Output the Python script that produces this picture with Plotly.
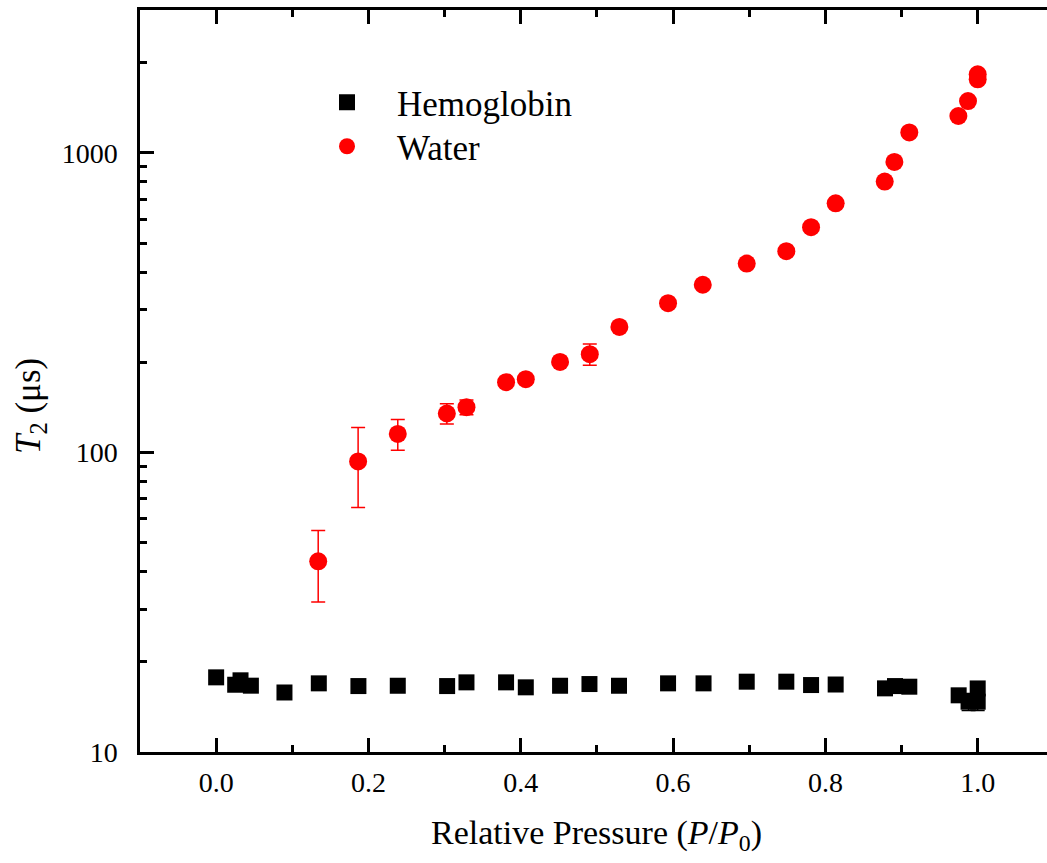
import plotly.graph_objects as go

# ---- data ----
hemo_x = [0.0, 0.025, 0.032, 0.0456, 0.0897, 0.1348, 0.1868, 0.2385, 0.3033, 0.3287,
          0.3807, 0.4066, 0.4516, 0.4902, 0.529, 0.5934, 0.64, 0.6967, 0.7487, 0.7812,
          0.8135, 0.8783, 0.8914, 0.9102, 0.975, 0.988, 1.0, 1.0]
hemo_y = [17.75, 16.77, 17.35, 16.65, 15.8, 16.95, 16.6, 16.64, 16.6, 17.08,
          17.08, 16.44, 16.64, 16.86, 16.64, 16.95, 16.95, 17.17, 17.17, 16.73,
          16.8, 16.31, 16.6, 16.52, 15.46, 14.72, 14.72, 16.3]
hemo_err = [0.3, 0.3, 0.3, 0.3, 0.3, 0.3, 0.3, 0.3, 0.3, 0.3,
            0.3, 0.3, 0.3, 0.3, 0.3, 0.3, 0.3, 0.3, 0.3, 0.3,
            0.3, 0.3, 0.3, 0.3, 0.4, 0.95, 0.95, 0.4]

water_x = [0.134, 0.1864, 0.2385, 0.3029, 0.3287, 0.3807, 0.4066, 0.4516, 0.4906, 0.5295,
           0.5934, 0.639, 0.6967, 0.7487, 0.7812, 0.8135, 0.8779, 0.8906, 0.9102, 0.9746,
           0.9873, 1.0, 1.0]
water_y = [43.3, 93.3, 115.3, 134.9, 141.6, 171.7, 175.7, 200.6, 212.8, 262.4,
           315, 363, 427, 470, 565, 679, 802, 933, 1171, 1328,
           1490, 1830, 1760]
water_err = [11.6, 27.8, 13.5, 10.4, 8, 4, 4, 5, 17.4, 6,
             6, 6, 6, 6, 8, 8, 10, 10, 12, 15,
             15, 20, 20]

x_ticks = [0.0, 0.2, 0.4, 0.6, 0.8, 1.0]
x_minor = [-0.1, 0.1, 0.3, 0.5, 0.7, 0.9]
y_ticks = [10, 100, 1000]
y_minor = [20, 30, 40, 50, 60, 70, 80, 90, 200, 300, 400, 500, 600, 700, 800, 900, 2000, 3000]

FONT = "Liberation Serif, Times New Roman, serif"
W, H = 1047, 863
L, T, B, R = 140, 10, 111, 0
PW = W - L - R
PH = H - T - B

fig = go.Figure()
fig.add_trace(go.Scatter(
    x=hemo_x, y=hemo_y, mode="markers", name="Hemoglobin",
    marker=dict(symbol="square", size=16, color="black", line=dict(width=0)),
    error_y=dict(type="data", array=hemo_err, color="black", thickness=1.5, width=7),
    legend="legend"))
fig.add_trace(go.Scatter(
    x=water_x, y=water_y, mode="markers", name="Water",
    marker=dict(symbol="circle", size=18, color="#ff0000", line=dict(width=0)),
    error_y=dict(type="data", array=water_err, color="#ff0000", thickness=1.5, width=7),
    legend="legend2"))

def px_x(px):
    return (px - L) / PW

def px_y(py):
    return (H - B - py) / PH

leg_common = dict(font=dict(family=FONT, size=35, color="black"), bgcolor="rgba(0,0,0,0)",
                  borderwidth=0, xanchor="left", yanchor="middle", itemwidth=90,
                  xref="paper", yref="paper")

fig.update_layout(
    width=W, height=H,
    margin=dict(l=L, r=R, t=T, b=B, pad=0),
    paper_bgcolor="white", plot_bgcolor="white",
    font=dict(family=FONT, color="black"),
    showlegend=True,
    legend=dict(x=px_x(297), y=px_y(102.5), **leg_common),
    legend2=dict(x=px_x(297), y=px_y(146.5), **leg_common),
    xaxis=dict(
        range=[-0.1, 1.091], tickvals=x_ticks, tickformat=".1f",
        ticks="inside", ticklen=14, tickwidth=2.5, tickcolor="black",
        showline=True, linewidth=2.5, linecolor="black", mirror="ticks",
        showgrid=False, zeroline=False,
        minor=dict(tickvals=x_minor, ticks="inside", ticklen=7, tickwidth=2.5, tickcolor="black", showgrid=False),
        tickfont=dict(family=FONT, size=28, color="black"),
        ticklabelstandoff=4,
    ),
    yaxis=dict(
        type="log", range=[1, 3.4771], tickvals=y_ticks, ticktext=["10", "100", "1000"],
        ticks="inside", ticklen=14, tickwidth=2.5, tickcolor="black",
        showline=True, linewidth=2.5, linecolor="black", mirror=False,
        showgrid=False, zeroline=False,
        minor=dict(tickvals=y_minor, ticks="inside", ticklen=7, tickwidth=2.5, tickcolor="black", showgrid=False),
        tickfont=dict(family=FONT, size=28, color="black"),
        ticklabelstandoff=14,
    ),
    yaxis2=dict(
        type="log", range=[1, 3.4771], tickvals=y_ticks, overlaying="y", side="right",
        ticks="inside", ticklen=7, tickwidth=2.5, tickcolor="black",
        showline=False, showgrid=False, zeroline=False, showticklabels=False,
    ),
    annotations=[
        dict(text="Relative Pressure (<i>P</i>/<i>P</i><sub>0</sub>)", xref="paper", yref="paper",
             x=px_x(596), y=px_y(835), xanchor="center", yanchor="middle", showarrow=False,
             font=dict(family=FONT, size=34, color="black")),
        dict(text="<i>T</i><sub>2</sub> (μs)", xref="paper", yref="paper",
             x=px_x(30), y=px_y(406), xanchor="center", yanchor="middle", showarrow=False,
             textangle=-90, font=dict(family=FONT, size=35, color="black")),
    ],
)

fig.write_html("out.html")
